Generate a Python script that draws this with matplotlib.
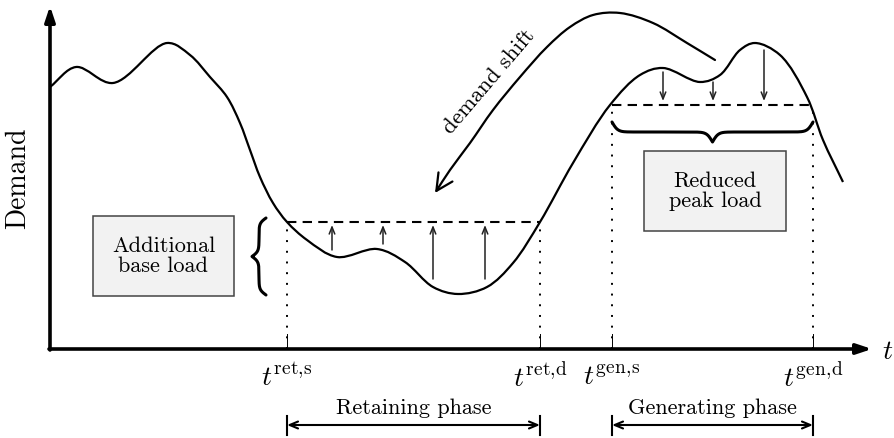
import matplotlib
matplotlib.use('Agg')
import matplotlib.pyplot as plt
from matplotlib.path import Path
from matplotlib.patches import FancyArrowPatch, PathPatch, Rectangle
import numpy as np

plt.rcParams['font.family'] = 'cmr10'
plt.rcParams['mathtext.fontset'] = 'cm'
plt.rcParams['axes.unicode_minus'] = False

# demand curve (time, demand)
curve_t = [0, 26, 63, 117, 140, 160, 177, 190, 200, 210, 223, 237, 257, 287, 327, 355,
           383, 408, 437, 463, 490, 523, 560, 590, 613, 650, 670, 690, 705, 730, 757, 773, 793]
curve_d = [262, 282, 266, 306, 294, 272, 252, 226, 199, 172, 146, 127, 109, 92, 100, 87,
           62, 55, 62, 86, 127, 186, 244, 274, 281, 267, 274, 299, 306, 294, 252, 209, 167]

# curved "demand shift" arrow (drawn from right to left)
shift_t = [665, 637, 603, 570, 543, 520, 497, 470, 443, 420, 400, 385]
shift_d = [289, 306, 326, 336, 334, 322, 302, 272, 239, 206, 179, 156]

# phase limits and levels
t_ret_s, t_ret_d = 237, 490
t_gen_s, t_gen_d = 562, 763
base_level = 127
peak_level = 244
tick_labels = [r'$t^{\mathrm{ret,\!s}}$', r'$t^{\mathrm{ret,\!d}}$',
               r'$t^{\mathrm{gen,\!s}}$', r'$t^{\mathrm{gen,\!d}}$']

# small arrows: position, start demand
up_t = [282, 333, 383, 435]
up_d = [99, 105, 70, 70]
down_t = [613, 663, 714]
down_d = [277, 267, 299]


def smooth_path(xs, ys):
    # centripetal catmull-rom through the points, as bezier segments
    P = np.column_stack([xs, ys]).astype(float)
    n = len(P)
    dt = np.sqrt(np.hypot(*np.diff(P, axis=0).T))
    M = np.zeros_like(P)
    M[0] = (P[1] - P[0]) / dt[0]
    M[-1] = (P[-1] - P[-2]) / dt[-1]
    for i in range(1, n - 1):
        a, b = dt[i - 1], dt[i]
        M[i] = ((P[i] - P[i - 1]) / a - (P[i + 1] - P[i - 1]) / (a + b)
                + (P[i + 1] - P[i]) / b)
    verts = [P[0]]
    for i in range(n - 1):
        verts += [P[i] + M[i] * dt[i] / 3, P[i + 1] - M[i + 1] * dt[i] / 3, P[i + 1]]
    codes = [Path.MOVETO] + [Path.CURVE4] * (len(verts) - 1)
    return Path(verts, codes)


def brace(ax, a, b, base, depth, vertical=False, beta=60, lw=2.2):
    u = np.linspace(0, 0.5, 200)
    v = 1 / (1 + np.exp(-beta * u)) + 1 / (1 + np.exp(-beta * (u - 0.5)))
    v = (v - v[0]) / (v[-1] - v[0])
    u = np.concatenate([u, 1 - u[::-1]])
    v = np.concatenate([v, v[::-1]])
    along = a + (b - a) * u
    across = base + depth * v
    if vertical:
        ax.plot(across, along, color='k', lw=lw, solid_capstyle='round')
    else:
        ax.plot(along, across, color='k', lw=lw, solid_capstyle='round')


fig = plt.figure(figsize=(8.95, 4.38), dpi=100)
ax = fig.add_axes([0, 0, 1, 1])
ax.set_xlim(-50, 845)
ax.set_ylim(-89, 349)
ax.axis('off')

# axes with arrow heads
ax.annotate('', xy=(0, 343), xytext=(0, -1),
            arrowprops=dict(arrowstyle='-|>,head_length=0.9,head_width=0.3', lw=2.6, color='k',
                            shrinkA=0, shrinkB=0))
ax.annotate('', xy=(822, 0), xytext=(-1, 0),
            arrowprops=dict(arrowstyle='-|>,head_length=0.9,head_width=0.3', lw=2.6, color='k',
                            shrinkA=0, shrinkB=0))
ax.text(-32, 171, 'Demand', rotation=90, fontsize=20, ha='center', va='center')
ax.text(838, -3, r'$t$', fontsize=20, ha='center', va='center')

# demand curve
ax.add_patch(PathPatch(smooth_path(curve_t, curve_d), fill=False, lw=1.6, ec='k'))

# dashed levels and dotted phase limits
ax.plot([t_ret_s, t_ret_d], [base_level, base_level], color='k', lw=1.5, dashes=(4.5, 3))
ax.plot([t_gen_s, t_gen_d], [peak_level, peak_level], color='k', lw=1.5, dashes=(4.5, 3))
for t, lev, lab in zip([t_ret_s, t_ret_d, t_gen_s, t_gen_d],
                       [base_level, base_level, peak_level, peak_level], tick_labels):
    ax.plot([t, t], [0, lev], color='k', lw=1.4, linestyle=(0, (1, 4.5)))
    ax.plot([t, t], [0, 15], color='k', lw=0.7)
    ax.text(t, -29, lab, fontsize=20, ha='center', va='center')

# small arrows
for t, d in zip(up_t, up_d):
    ax.annotate('', xy=(t, base_level - 3), xytext=(t, d),
                arrowprops=dict(arrowstyle='->,head_length=0.5,head_width=0.2', lw=1.1, color='#222',
                                shrinkA=0, shrinkB=0))
for t, d in zip(down_t, down_d):
    ax.annotate('', xy=(t, peak_level + 4), xytext=(t, d),
                arrowprops=dict(arrowstyle='->,head_length=0.5,head_width=0.2', lw=1.1, color='#222',
                                shrinkA=0, shrinkB=0))

# demand shift
ax.add_patch(FancyArrowPatch(path=smooth_path(shift_t, shift_d),
                             arrowstyle='->,head_length=0.6,head_width=0.3', lw=1.6, color='k',
                             mutation_scale=20))
ax.text(439, 267, 'demand shift', rotation=49.5, fontsize=16.5, ha='center', va='center',
        rotation_mode='anchor')

# braces
brace(ax, 54, 131, 216, -14, vertical=True, beta=30)
brace(ax, t_gen_s, t_gen_d, 227, -20, beta=70)

# boxes
ax.add_patch(Rectangle((43, 53), 141, 80, fc='#f2f2f2', ec='#444', lw=1.1))
ax.text(113.5, 93, 'Additional\nbase load', fontsize=16, ha='center', va='center', linespacing=1.0)
ax.add_patch(Rectangle((594, 118), 142, 80, fc='#f2f2f2', ec='#444', lw=1.1))
ax.text(665, 158, 'Reduced\npeak load', fontsize=16, ha='center', va='center', linespacing=1.0)

# phase spans
for a, b, name in [(t_ret_s, t_ret_d, 'Retaining phase'), (t_gen_s, t_gen_d, 'Generating phase')]:
    ax.annotate('', xy=(b, -76), xytext=(a, -76),
                arrowprops=dict(arrowstyle='<->,head_length=0.6,head_width=0.25', lw=1.5, color='k',
                                shrinkA=0, shrinkB=0))
    ax.plot([a, a], [-67, -86], color='k', lw=1.5)
    ax.plot([b, b], [-67, -86], color='k', lw=1.5)
    ax.text((a + b) / 2, -59, name, fontsize=16, ha='center', va='center')

fig.savefig('out.png', dpi=100)
